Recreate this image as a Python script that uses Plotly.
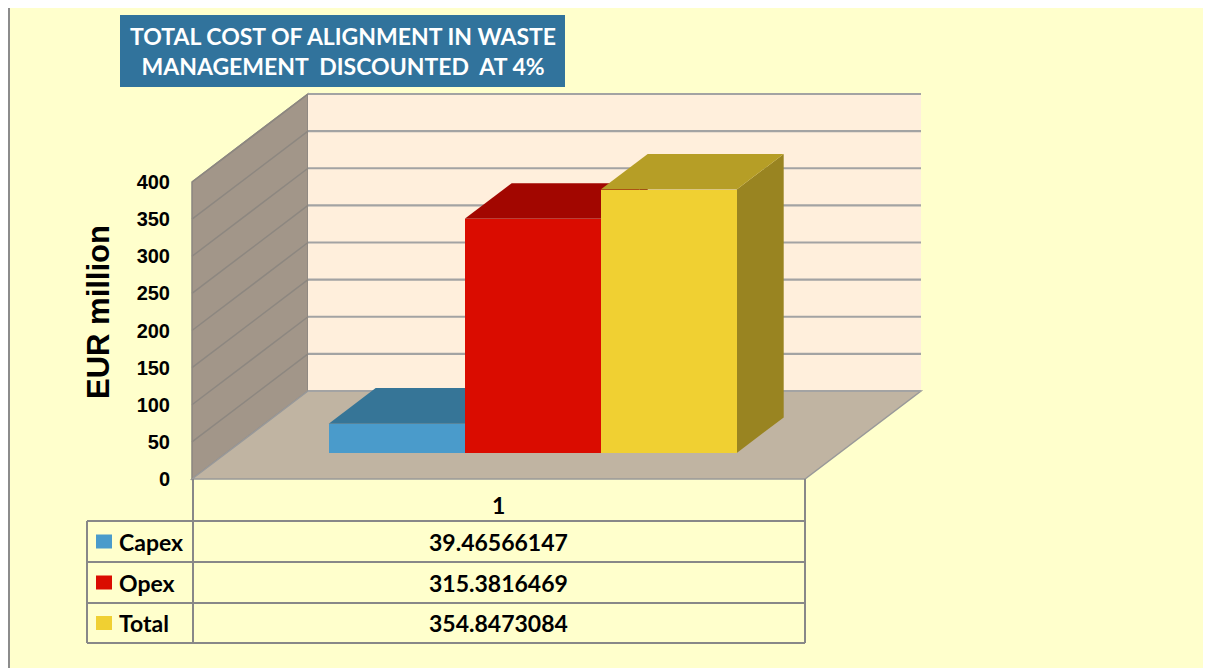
import plotly.graph_objects as go

# ---------------- data ----------------
categories = ["1"]
series_names = ["Capex", "Opex", "Total"]
series_values = [39.46566147, 315.3816469, 354.8473084]
front_colors = ["#4A9BCB", "#DA0C00", "#F0D032"]
top_colors = ["#367597", "#A20600", "#B69E26"]
side_colors = ["#2B5E79", "#8A0500", "#998421"]
y_ticks = [0, 50, 100, 150, 200, 250, 300, 350, 400]
y_title = "EUR million"
title_lines = ["TOTAL COST OF ALIGNMENT IN WASTE", "MANAGEMENT  DISCOUNTED  AT 4%"]

# ---------------- geometry (pseudo 3D projection) ----------------
FIG_W, FIG_H = 1203, 660
OFF = 8.0                  # page offset of the figure (body margin); px constants below are page coords
SX = 136.0                 # px per x unit (one bar width)
SY = 297.0 / 400.0         # px per value unit
X0PX, Y0PX = 192.0, 479.0  # front-left floor corner in px
DXPX, DYPX = 116.0, 88.0   # depth offset in px
DX, DY = DXPX / SX, DYPX / SY
Z0, Z1 = 0.295, 0.70       # bar depth span
FLOOR_W = 613.0 / SX
GAP = (FLOOR_W - len(series_values)) / 2
VMAX = y_ticks[-1]

xa, xb = -4 / SX, FLOOR_W + DX + 4 / SX
ya, yb = -4 / SY, VMAX + DY + 4 / SY
L = X0PX - OFF + xa * SX
PW = (xb - xa) * SX
R = FIG_W - L - PW
BOT = Y0PX - OFF - ya * SY
B = FIG_H - BOT
T = Y0PX - OFF - yb * SY
PH = BOT - T


def P(x, v, z):
    return x + z * DX, v + z * DY


def path(pts):
    return "M " + " L ".join(f"{a:.5f},{b:.5f}" for a, b in pts) + " Z"


def px2x(px):
    return (px - OFF - L) / PW


def py2y(py):
    return (BOT - (py - OFF)) / PH


shapes = []
GRID = "#A3A3A3"
WALLGRID = "#8D8780"

# left wall
shapes.append(dict(type="path", xref="x", yref="y", layer="below",
                   path=path([P(0, 0, 0), P(0, VMAX, 0), P(0, VMAX, 1), P(0, 0, 1)]),
                   fillcolor="#A29689", line=dict(color="#8A8580", width=1.5)))
# back wall
shapes.append(dict(type="path", xref="x", yref="y", layer="below",
                   path=path([P(0, 0, 1), P(0, VMAX, 1), P(FLOOR_W, VMAX, 1), P(FLOOR_W, 0, 1)]),
                   fillcolor="#FFEFDC", line=dict(width=0)))
# floor
shapes.append(dict(type="path", xref="x", yref="y", layer="below",
                   path=path([P(0, 0, 0), P(FLOOR_W, 0, 0), P(FLOOR_W, 0, 1), P(0, 0, 1)]),
                   fillcolor="#C0B4A2", line=dict(color="#999999", width=1.5)))
# gridlines
for v in y_ticks:
    x1, y1 = P(0, v, 1)
    x2, y2 = P(FLOOR_W, v, 1)
    shapes.append(dict(type="line", xref="x", yref="y", layer="below",
                       x0=x1, y0=y1, x1=x2, y1=y2, line=dict(color=GRID, width=2.2)))
    if v > 0:
        a0, b0 = P(0, v, 0)
        shapes.append(dict(type="line", xref="x", yref="y", layer="below",
                           x0=a0, y0=b0, x1=x1, y1=y1, line=dict(color=WALLGRID, width=1.5)))

# bar tops and sides (drawn below the bar traces, painter's order)
for i, v in enumerate(series_values):
    xl = GAP + i
    xr = xl + 1
    shapes.append(dict(type="path", xref="x", yref="y", layer="below",
                       path=path([P(xr, 0, Z0), P(xr, v, Z0), P(xr, v, Z1), P(xr, 0, Z1)]),
                       fillcolor=side_colors[i], line=dict(width=0)))
    shapes.append(dict(type="path", xref="x", yref="y", layer="below",
                       path=path([P(xl, v, Z0), P(xr, v, Z0), P(xr, v, Z1), P(xl, v, Z1)]),
                       fillcolor=top_colors[i], line=dict(width=0)))

fig = go.Figure()
for i, (name, v) in enumerate(zip(series_names, series_values)):
    fig.add_trace(go.Bar(
        x=[GAP + i + 0.5 + Z0 * DX], y=[v], base=[Z0 * DY], width=[1.0],
        name=name, marker=dict(color=front_colors[i], line=dict(width=0)),
        showlegend=False, hovertemplate=f"{name}: %{{y}}<extra></extra>"))

# ---------------- frame ----------------
shapes.append(dict(type="line", xref="paper", yref="paper", layer="above",
                   x0=px2x(9), x1=px2x(9), y0=py2y(8), y1=py2y(OFF + FIG_H),
                   line=dict(color="#8C8C8C", width=2)))

# title box
shapes.append(dict(type="rect", xref="paper", yref="paper", layer="above",
                   x0=px2x(120), x1=px2x(565), y0=py2y(15), y1=py2y(87),
                   fillcolor="#31739C", line=dict(width=0)))

annotations = [dict(xref="paper", yref="paper", x=px2x(343), y=py2y(51),
                    text="<br>".join(title_lines), showarrow=False,
                    xanchor="center", yanchor="middle", align="center",
                    font=dict(family="Lato", size=23, color="white", weight="bold"))]

# y-axis title
annotations.append(dict(xref="paper", yref="paper", x=px2x(98), y=py2y(312),
                        text=y_title, textangle=-90, showarrow=False,
                        xanchor="center", yanchor="middle",
                        font=dict(family="Liberation Sans", size=31, color="black", weight="bold")))

# ---------------- data table ----------------
TL, TD, TR = 87, 193, 805
ROW_Y = [479, 521, 562, 603, 643]
LC = "#888888"
# vertical lines
shapes.append(dict(type="line", xref="paper", yref="paper", layer="above",
                   x0=px2x(TD), x1=px2x(TD), y0=py2y(ROW_Y[0]), y1=py2y(ROW_Y[-1]),
                   line=dict(color=LC, width=2)))
shapes.append(dict(type="line", xref="paper", yref="paper", layer="above",
                   x0=px2x(TR), x1=px2x(TR), y0=py2y(ROW_Y[0]), y1=py2y(ROW_Y[-1]),
                   line=dict(color=LC, width=2)))
shapes.append(dict(type="line", xref="paper", yref="paper", layer="above",
                   x0=px2x(TL), x1=px2x(TL), y0=py2y(ROW_Y[1]), y1=py2y(ROW_Y[-1]),
                   line=dict(color=LC, width=2)))
for ry in ROW_Y[1:]:
    shapes.append(dict(type="line", xref="paper", yref="paper", layer="above",
                       x0=px2x(TL), x1=px2x(TR), y0=py2y(ry), y1=py2y(ry),
                       line=dict(color=LC, width=2)))

TFONT = dict(family="Lato", size=23, color="black", weight="bold")
cx = (TD + TR) / 2 - 1
annotations.append(dict(xref="paper", yref="paper", x=px2x(cx), y=py2y((ROW_Y[0] + ROW_Y[1]) / 2 + 5),
                        text=categories[0], showarrow=False, xanchor="center", yanchor="middle",
                        font=TFONT))
for i, (name, v) in enumerate(zip(series_names, series_values)):
    ymid = (ROW_Y[i + 1] + ROW_Y[i + 2]) / 2
    shapes.append(dict(type="rect", xref="paper", yref="paper", layer="above",
                       x0=px2x(96), x1=px2x(112), y0=py2y(ymid - 7), y1=py2y(ymid + 7),
                       fillcolor=front_colors[i], line=dict(width=0)))
    annotations.append(dict(xref="paper", yref="paper", x=px2x(117), y=py2y(ymid),
                            text=name, showarrow=False, xanchor="left", yanchor="middle",
                            font=TFONT))
    annotations.append(dict(xref="paper", yref="paper", x=px2x(cx), y=py2y(ymid),
                            text=f"{v:.10g}", showarrow=False, xanchor="center", yanchor="middle",
                            font=TFONT))

fig.update_layout(
    width=FIG_W, height=FIG_H,
    margin=dict(l=L, r=R, t=T, b=B, autoexpand=False),
    paper_bgcolor="#FFFFCC", plot_bgcolor="rgba(0,0,0,0)",
    barmode="overlay", bargap=0,
    xaxis=dict(range=[xa, xb], visible=False, fixedrange=True),
    yaxis=dict(range=[ya, yb], tickvals=y_ticks, ticktext=[str(t) for t in y_ticks],
               showgrid=False, zeroline=False, showline=False,
               ticks="outside", ticklen=13, tickcolor="rgba(0,0,0,0)",
               tickfont=dict(family="Liberation Sans", size=20, color="black", weight="bold"),
               fixedrange=True),
    shapes=shapes, annotations=annotations,
)

fig.write_html("out.html", post_script="document.body.style.overflow='hidden';")
